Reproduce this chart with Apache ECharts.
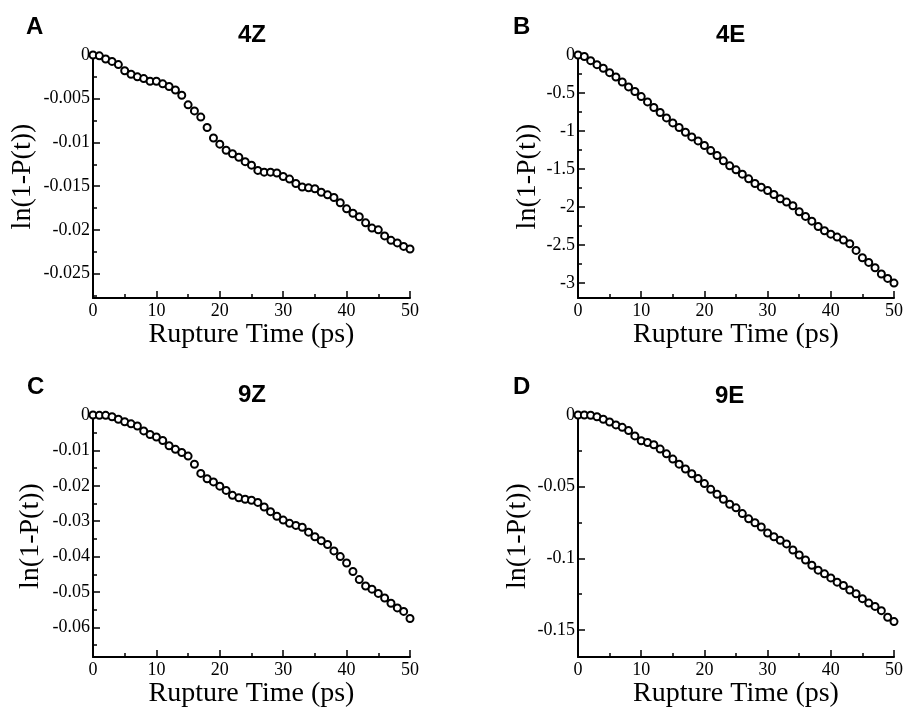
<!DOCTYPE html>
<html>
<head>
<meta charset="utf-8">
<script src="https://cdn.jsdelivr.net/npm/echarts@6/dist/echarts.min.js"></script>
<style>
  html, body { margin: 0; padding: 0; background: #fff; }
  #chart { width: 906px; height: 709px; }
</style>
</head>
<body>
<div id="chart"></div>
<script>
// rupture time (ps), shared by all four panels
const time = [0, 1, 2, 3, 4, 5, 6, 7, 8, 9, 10, 11, 12, 13, 14, 15, 16, 17, 18, 19, 20,
  21, 22, 23, 24, 25, 26, 27, 28, 29, 30, 31, 32, 33, 34, 35, 36, 37, 38, 39, 40,
  41, 42, 43, 44, 45, 46, 47, 48, 49, 50];

// ln(1-P(t)) per panel
const lnP4Z = [0, -0.0001, -0.00046, -0.00073, -0.0011, -0.0018, -0.0022, -0.0025, -0.0027, -0.003,
  -0.003, -0.0033, -0.0036, -0.004, -0.0046, -0.0057, -0.0064, -0.0071, -0.0083, -0.0095,
  -0.0102, -0.0109, -0.0113, -0.0117, -0.0122, -0.0126, -0.0132, -0.0134, -0.0134, -0.0135,
  -0.0139, -0.0142, -0.0147, -0.0151, -0.0152, -0.0153, -0.0157, -0.016, -0.0163, -0.0169,
  -0.0176, -0.0181, -0.0185, -0.0192, -0.0198, -0.02, -0.0207, -0.0212, -0.0215, -0.0219, -0.0222];
const lnP4E = [0, -0.02, -0.074, -0.127, -0.175, -0.232, -0.289, -0.355, -0.42, -0.48,
  -0.547, -0.617, -0.69, -0.757, -0.827, -0.893, -0.954, -1.016, -1.077, -1.13,
  -1.19, -1.257, -1.322, -1.392, -1.458, -1.51, -1.567, -1.629, -1.69, -1.738,
  -1.782, -1.835, -1.891, -1.935, -1.983, -2.062, -2.123, -2.185, -2.255, -2.312,
  -2.356, -2.395, -2.434, -2.482, -2.57, -2.666, -2.728, -2.798, -2.881, -2.938, -3.0];
const lnP9Z = [0, -0.0001, -0.0001, -0.0005, -0.0012, -0.0019, -0.0025, -0.0031, -0.0045, -0.0055,
  -0.0062, -0.0072, -0.0087, -0.0097, -0.0106, -0.0116, -0.0139, -0.0165, -0.018, -0.0189,
  -0.0201, -0.0213, -0.0227, -0.0234, -0.0238, -0.0241, -0.0247, -0.026, -0.0273, -0.0286,
  -0.0297, -0.0306, -0.0312, -0.0317, -0.0331, -0.0344, -0.0355, -0.0366, -0.0384, -0.04,
  -0.0418, -0.0442, -0.0465, -0.0483, -0.0492, -0.0504, -0.0517, -0.0532, -0.0545, -0.0555, -0.0575];
const lnP9E = [0, 0, -0.0002, -0.0012, -0.003, -0.0049, -0.0069, -0.0086, -0.0109, -0.0146,
  -0.018, -0.0192, -0.0208, -0.0238, -0.0271, -0.0308, -0.0343, -0.0377, -0.041, -0.0444,
  -0.0479, -0.0519, -0.0553, -0.0588, -0.0623, -0.0648, -0.0688, -0.0725, -0.0752, -0.0782,
  -0.0824, -0.085, -0.0875, -0.09, -0.0942, -0.0977, -0.1012, -0.1049, -0.1083, -0.1109,
  -0.1137, -0.1167, -0.119, -0.1222, -0.1248, -0.1282, -0.1313, -0.1336, -0.1366, -0.1412, -0.1442];

// axis ticks
const xTicks = [0, 10, 20, 30, 40, 50];
const yTicks4Z = [0, -0.005, -0.01, -0.015, -0.02, -0.025];
const yMinor4Z = [-0.0025, -0.0075, -0.0125, -0.0175, -0.0225, -0.0275];
const yTicks4E = [0, -0.5, -1, -1.5, -2, -2.5, -3];
const yMinor4E = [-0.25, -0.75, -1.25, -1.75, -2.25, -2.75];
const yTicks9Z = [0, -0.01, -0.02, -0.03, -0.04, -0.05, -0.06];
const yMinor9Z = [-0.005, -0.015, -0.025, -0.035, -0.045, -0.055, -0.065];
const yTicks9E = [0, -0.05, -0.1, -0.15];
const yMinor9E = [-0.025, -0.075, -0.125];

const panelNames = ['4Z', '4E', '9Z', '9E'];
const panelLetters = ['A', 'B', 'C', 'D'];

const serif = 'Liberation Serif';
const sans = 'Liberation Sans';

const panels = [
  { data: lnP4Z, ticks: yTicks4Z, minor: yMinor4Z, min: -0.0278, left: 93, top: 55, nameGap: 56 },
  { data: lnP4E, ticks: yTicks4E, minor: yMinor4E, min: -3.196, left: 578, top: 55, nameGap: 36 },
  { data: lnP9Z, ticks: yTicks9Z, minor: yMinor9Z, min: -0.0684, left: 93, top: 415, nameGap: 48 },
  { data: lnP9E, ticks: yTicks9E, minor: yMinor9E, min: -0.169, left: 578, top: 415, nameGap: 46 }
];

const titlePos = [
  { lx: 26, ly: 15, nx: 238, ny: 23 },
  { lx: 513, ly: 15, nx: 716, ny: 23 },
  { lx: 27, ly: 375, nx: 238, ny: 383 },
  { lx: 513, ly: 375, nx: 715, ny: 384 }
];

const grids = [], xAxes = [], yAxes = [], series = [], titles = [];

panels.forEach((p, i) => {
  grids.push({ left: p.left, top: p.top, width: 317, height: 243 });

  xAxes.push({
    gridIndex: i, type: 'value', position: 'bottom', min: 0, max: 50, interval: 10,
    name: 'Rupture Time (ps)', nameLocation: 'middle', nameGap: 22,
    nameTextStyle: { fontFamily: serif, fontSize: 28, color: '#000' },
    axisLine: { onZero: false, lineStyle: { color: '#000', width: 2 } },
    axisTick: { inside: true, length: 7, lineStyle: { color: '#000', width: 1.5 } },
    minorTick: { show: true, splitNumber: 2, length: 4, lineStyle: { color: '#000', width: 1.5 } },
    axisLabel: { fontFamily: serif, fontSize: 18, color: '#000', margin: 4, customValues: xTicks },
    splitLine: { show: false }
  });

  // main y axis: line, major ticks, labels
  yAxes.push({
    gridIndex: i, type: 'value', position: 'left', min: p.min, max: 0,
    name: 'ln(1-P(t))', nameLocation: 'middle', nameGap: p.nameGap, nameRotate: 90,
    nameTextStyle: { fontFamily: serif, fontSize: 28, color: '#000' },
    axisLine: { onZero: false, lineStyle: { color: '#000', width: 2 } },
    axisTick: { inside: true, length: 7, customValues: p.ticks, lineStyle: { color: '#000', width: 1.5 } },
    axisLabel: { fontFamily: serif, fontSize: 18, color: '#000', margin: 3, customValues: p.ticks },
    splitLine: { show: false }
  });
  // overlay y axis: minor ticks only
  yAxes.push({
    gridIndex: i, type: 'value', position: 'left', offset: 0, min: p.min, max: 0,
    axisLine: { show: false, onZero: false },
    axisTick: { inside: true, length: 4, customValues: p.minor, lineStyle: { color: '#000', width: 1.5 } },
    axisLabel: { show: false },
    splitLine: { show: false }
  });

  series.push({
    type: 'scatter', xAxisIndex: i, yAxisIndex: 2 * i,
    data: time.map((t, k) => [t, p.data[k]]),
    symbol: 'circle', symbolSize: 7,
    itemStyle: { color: '#fff', borderColor: '#000', borderWidth: 2, opacity: 1 },
    emphasis: { disabled: true }
  });

  const tp = titlePos[i];
  titles.push({
    text: panelLetters[i], left: tp.lx, top: tp.ly, padding: 0,
    textStyle: { fontFamily: sans, fontSize: 24, fontWeight: 'bold', color: '#000' }
  });
  titles.push({
    text: panelNames[i], left: tp.nx, top: tp.ny, padding: 0,
    textStyle: { fontFamily: sans, fontSize: 24, fontWeight: 'bold', color: '#000' }
  });
});

const chart = echarts.init(document.getElementById('chart'), null, { renderer: 'canvas' });
chart.setOption({
  animation: false,
  backgroundColor: '#fff',
  title: titles,
  grid: grids,
  xAxis: xAxes,
  yAxis: yAxes,
  series: series
});
</script>
</body>
</html>
